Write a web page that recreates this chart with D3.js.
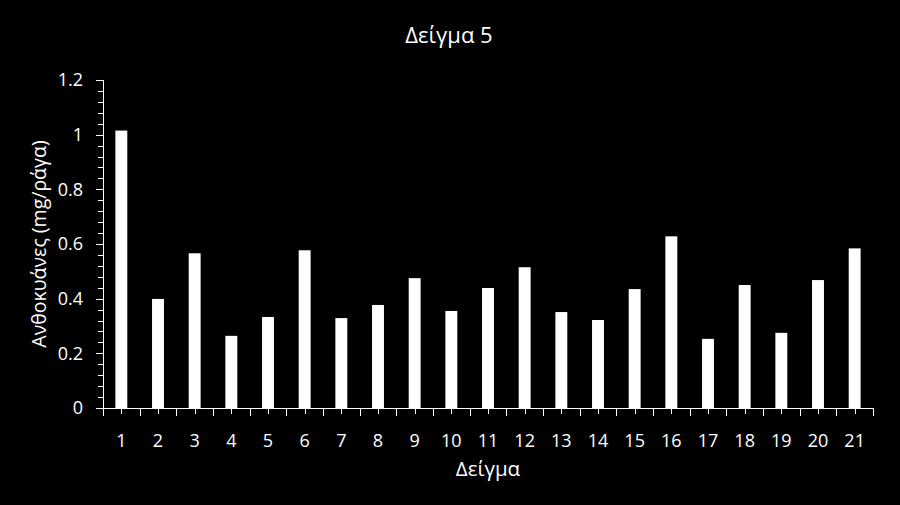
<!DOCTYPE html>
<html>
<head>
<meta charset="utf-8">
<script src="https://cdn.jsdelivr.net/npm/d3@7"></script>
<style>
  body { margin: 0; background: #000; }
  text { font-family: "Open Sans", sans-serif; fill: #fff; }
</style>
</head>
<body>
<div id="main"></div>
<script>
  var WIDTH = 900, HEIGHT = 505;
  var LEFT = 103, RIGHT = 873, TOP = 80, BOTTOM = 408;

  var samples = ["1","2","3","4","5","6","7","8","9","10","11","12","13","14","15","16","17","18","19","20","21"];
  var anthocyanins = [1.015, 0.399, 0.566, 0.264, 0.333, 0.577, 0.329, 0.377, 0.475, 0.355, 0.439,
                      0.515, 0.351, 0.322, 0.435, 0.628, 0.253, 0.45, 0.275, 0.468, 0.584];
  var yTicks = [0, 0.2, 0.4, 0.6, 0.8, 1, 1.2];
  var yMinor = d3.range(0, 31).map(function(i) { return i * 0.04; });

  var svg = d3.select('#main').append('svg')
              .attr('width', WIDTH).attr('height', HEIGHT)
              .style('background', '#000');

  var x = d3.scaleBand().domain(samples).range([LEFT, RIGHT])
            .paddingInner(0.675).paddingOuter(0.3375);
  var y = d3.scaleLinear().domain([0, 1.2]).range([BOTTOM, TOP]);

  // bars
  svg.selectAll('.bar').data(anthocyanins).enter()
    .append('rect')
      .attr('class', 'bar')
      .attr('x', function(d, i) { return x(samples[i]); })
      .attr('y', function(d) { return y(d); })
      .attr('width', x.bandwidth())
      .attr('height', function(d) { return BOTTOM - y(d); })
      .attr('fill', '#fff');

  // y axis with minor ticks
  var gy = svg.append('g').attr('transform', 'translate(' + LEFT + ',0)');
  gy.selectAll('.minor').data(yMinor).enter().append('line')
    .attr('x1', -5).attr('x2', 0)
    .attr('y1', function(d) { return Math.round(y(d)) + 0.5; })
    .attr('y2', function(d) { return Math.round(y(d)) + 0.5; })
    .attr('stroke', '#fff');
  gy.append('line').attr('x1', 0.5).attr('x2', 0.5).attr('y1', y(1.2)).attr('y2', BOTTOM)
    .attr('stroke', '#fff');
  gy.selectAll('.major').data(yTicks).enter().append('line')
    .attr('x1', -7).attr('x2', 0)
    .attr('y1', function(d) { return Math.round(y(d)) + 0.5; })
    .attr('y2', function(d) { return Math.round(y(d)) + 0.5; })
    .attr('stroke', '#fff');
  gy.selectAll('.ylab').data(yTicks).enter().append('text')
    .attr('x', -20).attr('y', function(d) { return y(d); })
    .attr('dy', '0.35em').attr('text-anchor', 'end')
    .style('font-size', '18px')
    .text(function(d) { return d; });

  // x axis: ticks between categories and at centres
  var gx = svg.append('g').attr('transform', 'translate(0,' + BOTTOM + ')');
  gx.append('line').attr('x1', LEFT).attr('x2', RIGHT).attr('y1', 0.5).attr('y2', 0.5)
    .attr('stroke', '#fff');
  var step = x.step();
  var bounds = d3.range(0, samples.length + 1).map(function(i) { return LEFT + i * step; });
  gx.selectAll('.xb').data(bounds).enter().append('line')
    .attr('x1', function(d) { return Math.round(d) + 0.5; })
    .attr('x2', function(d) { return Math.round(d) + 0.5; })
    .attr('y1', 0).attr('y2', 8).attr('stroke', '#fff');
  gx.selectAll('.xc').data(samples).enter().append('line')
    .attr('x1', function(d) { return Math.round(x(d) + x.bandwidth() / 2) + 0.5; })
    .attr('x2', function(d) { return Math.round(x(d) + x.bandwidth() / 2) + 0.5; })
    .attr('y1', 0).attr('y2', 6).attr('stroke', '#fff');
  gx.selectAll('.xlab').data(samples).enter().append('text')
    .attr('x', function(d) { return x(d) + x.bandwidth() / 2; })
    .attr('y', 39).attr('text-anchor', 'middle')
    .style('font-size', '18px')
    .text(function(d) { return d; });

  // titles
  svg.append('text').attr('x', 449).attr('y', 43).attr('text-anchor', 'middle')
    .style('font-size', '22px').text('Δείγμα 5');
  svg.append('text').attr('x', 488).attr('y', 476).attr('text-anchor', 'middle')
    .style('font-size', '20.5px').text('Δείγμα');
  svg.append('text')
    .attr('transform', 'translate(46,' + ((TOP + BOTTOM) / 2) + ') rotate(-90)')
    .attr('text-anchor', 'middle')
    .style('font-size', '19.5px').text('Ανθοκυάνες (mg/ράγα)');
</script>
</body>
</html>
